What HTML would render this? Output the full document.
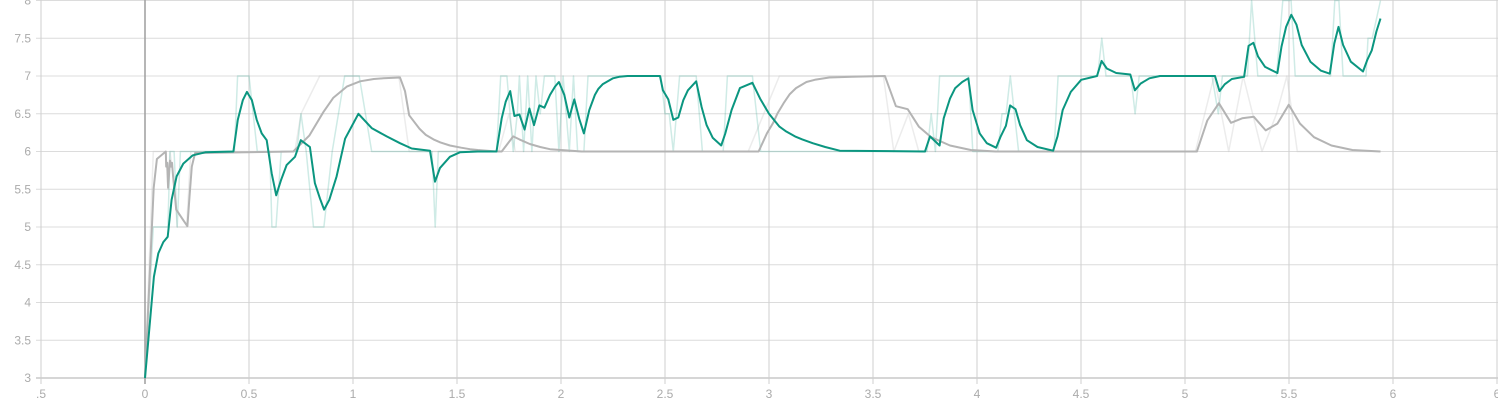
<!DOCTYPE html>
<html><head><meta charset="utf-8"><style>
html,body{margin:0;padding:0;background:#fff;}
svg{display:block;font-family:"Liberation Sans",sans-serif;}
</style></head><body>
<svg id="chart" width="1498" height="400" viewBox="0 0 1498 400" xmlns="http://www.w3.org/2000/svg">
<defs><clipPath id="pc"><rect x="41" y="0" width="1457" height="380"/></clipPath></defs>
<g id="grid"></g>
<g id="axes"></g>
<g id="plot" clip-path="url(#pc)"></g>
</svg>
<script>
const xTicks = [-0.5,0,0.5,1,1.5,2,2.5,3,3.5,4,4.5,5,5.5,6,6.5];
const xTickLabels = [".5","0","0.5","1","1.5","2","2.5","3","3.5","4","4.5","5","5.5","6","6"];
const yTicks = [3,3.5,4,4.5,5,5.5,6,6.5,7,7.5,8];
const yTickLabels = ["3","3.5","4","4.5","5","5.5","6","6.5","7","7.5","8"];

const tealRawX = [0,0.04,0.11,0.12,0.14,0.155,0.17,0.43,0.445,0.5,0.54,0.6,0.61,0.63,0.655,0.73,0.75,0.775,0.81,0.86,0.9,0.96,1.03,1.09,1.38,1.395,1.41,1.69,1.71,1.74,1.77,1.79,1.80,1.82,1.84,1.86,1.88,1.90,1.92,1.97,1.99,2.01,2.04,2.06,2.08,2.11,2.13,2.48,2.5,2.52,2.54,2.57,2.65,2.68,2.78,2.8,2.92,2.96,3.76,3.78,3.8,3.82,3.96,3.98,4.1,4.12,4.14,4.16,4.2,4.37,4.39,4.58,4.6,4.62,4.74,4.76,4.78,5.13,5.16,5.18,5.3,5.32,5.35,5.44,5.47,5.51,5.53,5.70,5.72,5.74,5.76,5.87,5.88,5.9,5.94];
const tealRawY = [3,5,5,6,6,5,6,6,7,7,6,6,5,5,6,6,6.5,6,5,5,6,7,7,6,6,5,6,6,7,7,6,6.5,7,6,7,6,7,6.5,7,7,6,7,6,7,6,6,7,7,6.5,6.5,6,7,7,6,6,7,7,6,6,6.5,6,7,7,6,6,6.5,6.5,7,6,6,7,7,7.5,7,7,6.5,7,7,6.5,7,7,8,7,7,8,8,7,7,8,8,7,7,7.5,7.5,8];

const tealX = [0,0.043,0.064,0.088,0.109,0.128,0.152,0.184,0.23,0.29,0.425,0.446,0.47,0.49,0.514,0.537,0.561,0.585,0.609,0.631,0.654,0.681,0.721,0.749,0.793,0.817,0.841,0.861,0.886,0.921,0.962,1.026,1.09,1.162,1.226,1.282,1.37,1.394,1.418,1.466,1.514,1.6,1.69,1.715,1.734,1.756,1.776,1.80,1.825,1.848,1.87,1.896,1.92,1.947,1.971,1.99,2.016,2.04,2.064,2.088,2.11,2.136,2.163,2.18,2.2,2.25,2.28,2.32,2.476,2.49,2.516,2.54,2.564,2.588,2.61,2.65,2.676,2.70,2.73,2.77,2.79,2.82,2.86,2.92,2.957,3.0,3.05,3.08,3.125,3.16,3.21,3.27,3.34,3.75,3.774,3.82,3.84,3.870,3.895,3.929,3.958,3.979,4.013,4.047,4.092,4.114,4.139,4.159,4.185,4.207,4.240,4.291,4.366,4.387,4.412,4.451,4.501,4.577,4.599,4.624,4.669,4.737,4.759,4.787,4.829,4.880,5.144,5.166,5.191,5.225,5.284,5.306,5.329,5.351,5.385,5.444,5.464,5.486,5.511,5.536,5.561,5.603,5.654,5.696,5.718,5.738,5.760,5.797,5.856,5.876,5.898,5.920,5.940];
const tealY = [3,4.34,4.65,4.80,4.87,5.36,5.67,5.84,5.95,5.99,6.0,6.42,6.68,6.79,6.68,6.42,6.24,6.15,5.71,5.42,5.62,5.82,5.93,6.15,6.06,5.58,5.38,5.23,5.36,5.67,6.17,6.50,6.31,6.20,6.11,6.04,6.01,5.60,5.78,5.93,5.99,6.0,6.0,6.44,6.66,6.80,6.47,6.49,6.29,6.57,6.35,6.61,6.58,6.75,6.86,6.92,6.75,6.45,6.69,6.43,6.24,6.55,6.75,6.83,6.89,6.97,6.99,7.0,7.0,6.81,6.69,6.42,6.45,6.68,6.81,6.93,6.59,6.35,6.18,6.08,6.24,6.55,6.84,6.91,6.70,6.50,6.33,6.27,6.20,6.16,6.11,6.06,6.01,6.0,6.2,6.08,6.44,6.70,6.84,6.92,6.97,6.55,6.24,6.11,6.05,6.20,6.34,6.61,6.56,6.35,6.15,6.06,6.01,6.2,6.55,6.79,6.95,7.0,7.2,7.1,7.04,7.02,6.81,6.90,6.97,7.0,7.0,6.80,6.89,6.96,6.99,7.40,7.44,7.26,7.12,7.04,7.39,7.65,7.81,7.68,7.41,7.19,7.07,7.03,7.43,7.65,7.41,7.19,7.06,7.21,7.34,7.59,7.76];

const grayRawX = [0,0.04,0.1,0.11,0.12,0.14,0.155,0.2,0.22,0.72,0.75,0.84,1.22,1.27,1.7,1.75,1.78,2.9,3.05,3.55,3.6,3.67,3.72,5.05,5.14,5.21,5.28,5.37,5.44,5.49,5.54,5.94];
const grayRawY = [3,6,6,5.5,6,5.6,5,5,6,6,6.5,7,7,6,6,6.5,6,6,7,7,6,6.5,6,6,7,6,7,6,6.5,7,6,6];

const grayX = [0,0.042,0.057,0.1,0.102,0.107,0.111,0.12,0.125,0.13,0.135,0.15,0.184,0.204,0.214,0.225,0.241,0.713,0.79,0.857,0.905,0.97,1.034,1.1,1.146,1.226,1.25,1.27,1.32,1.35,1.387,1.42,1.466,1.52,1.563,1.6,1.69,1.715,1.77,1.8,1.85,1.9,1.947,2.0,2.1,2.95,2.99,3.02,3.04,3.07,3.1,3.13,3.18,3.22,3.29,3.4,3.557,3.61,3.667,3.72,3.78,3.87,3.97,4.09,5.057,5.107,5.163,5.221,5.275,5.331,5.388,5.444,5.499,5.553,5.62,5.704,5.805,5.94];
const grayY = [3,5.52,5.9,6.0,5.8,5.85,5.52,5.88,5.8,5.85,5.67,5.23,5.09,5.01,5.4,5.8,5.98,6.0,6.21,6.52,6.71,6.86,6.93,6.96,6.97,6.98,6.8,6.48,6.30,6.22,6.16,6.12,6.08,6.05,6.03,6.02,6.0,6.0,6.2,6.16,6.1,6.06,6.03,6.02,6.0,6.0,6.24,6.38,6.5,6.64,6.76,6.84,6.92,6.95,6.98,6.99,7.0,6.6,6.56,6.33,6.19,6.08,6.02,6.0,6.0,6.41,6.64,6.38,6.44,6.46,6.28,6.37,6.62,6.37,6.19,6.08,6.02,6.0];

const NS = "http://www.w3.org/2000/svg";
function sx(v){ return 145 + (v) * 208; }
function sy(v){ return 378 - (v - 3) * 75.5; }

const grid = document.getElementById('grid');
const axes = document.getElementById('axes');
const plot = document.getElementById('plot');

yTicks.forEach((t,i)=>{
  const l = document.createElementNS(NS,'line');
  l.setAttribute('x1',36); l.setAttribute('x2',1498);
  l.setAttribute('y1',sy(t)); l.setAttribute('y2',sy(t));
  l.setAttribute('stroke', t===3 ? '#d6d6d6' : '#dcdcdc');
  l.setAttribute('stroke-width', t===3 ? 2 : 1);
  
  
  grid.appendChild(l);
  const tx = document.createElementNS(NS,'text');
  tx.setAttribute('x',31); tx.setAttribute('y',sy(t)+4);
  tx.setAttribute('text-anchor','end');
  tx.setAttribute('font-size','12'); tx.setAttribute('fill','#ababab');
  tx.textContent = yTickLabels[i];
  
  
  axes.appendChild(tx);
});
xTicks.forEach((t,i)=>{
  const l = document.createElementNS(NS,'line');
  l.setAttribute('x1',sx(t)); l.setAttribute('x2',sx(t));
  l.setAttribute('y1',0); l.setAttribute('y2',384);
  l.setAttribute('stroke', t===0 ? '#9e9e9e' : '#cfcfcf');
  l.setAttribute('stroke-width', t===0 ? 1.5 : 1);
  
  
  grid.appendChild(l);
  const tx = document.createElementNS(NS,'text');
  tx.setAttribute('x',sx(t)); tx.setAttribute('y',398);
  tx.setAttribute('text-anchor','middle');
  tx.setAttribute('font-size','12'); tx.setAttribute('fill','#ababab');
  tx.textContent = xTickLabels[i];
  
  
  axes.appendChild(tx);
});

function pathOf(xs, ys){
  return xs.map((x,i)=>(i?'L':'M')+sx(x).toFixed(1)+','+sy(ys[i]).toFixed(1)).join(' ');
}
function drawLine(xs, ys, color, width, opacity, name){
  const p = document.createElementNS(NS,'path');
  p.setAttribute('d', pathOf(xs, ys));
  p.setAttribute('fill','none');
  p.setAttribute('stroke',color);
  p.setAttribute('stroke-width',width);
  p.setAttribute('stroke-opacity',opacity);
  p.setAttribute('stroke-linejoin','round');
  
  
  plot.appendChild(p);
}
drawLine(grayRawX, grayRawY, '#c8c8c8', 1.5, 0.35, 'gray-raw-series');
drawLine(tealRawX, tealRawY, '#0f9a84', 1.5, 0.2, 'teal-raw-series');
drawLine(grayX, grayY, '#b4b4b4', 2, 1, 'gray-smoothed-series');
drawLine(tealX, tealY, '#0b9680', 2, 1, 'teal-smoothed-series');
</script>
</body></html>
